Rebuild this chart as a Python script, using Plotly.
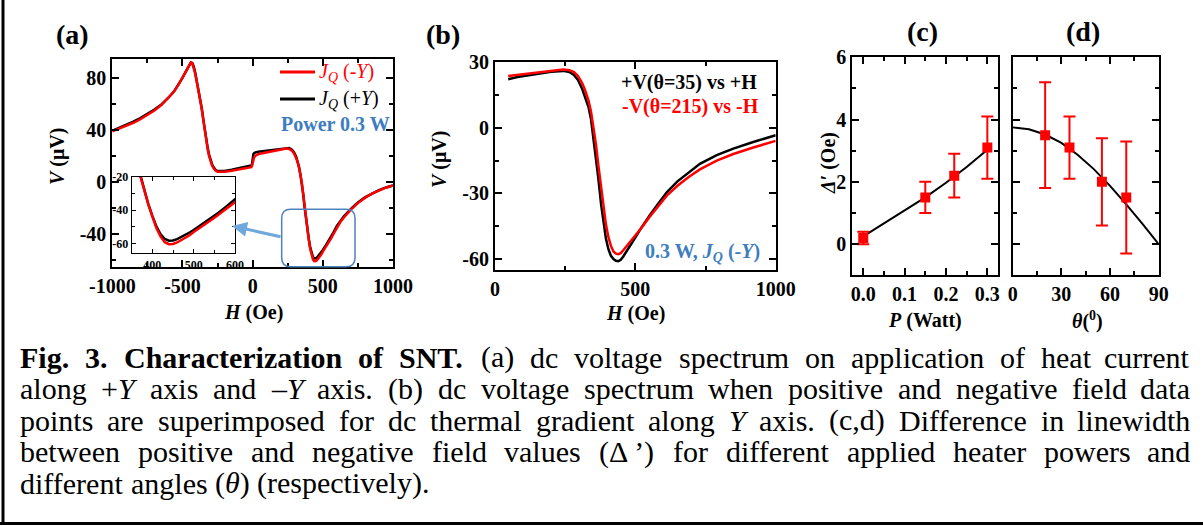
import re
import plotly.graph_objects as go

W, H = 1203, 526

# ---------------- data: panel (a) ----------------
H_a = [-1000, -950, -900, -850, -800, -750, -700, -650, -600, -560, -530, -500, -480, -460, -450, -440,
       -430, -420, -410, -400, -390, -380, -370, -360, -350, -340, -330, -320, -310, -300, -290, -280,
       -265, -250, -225, -200, -150, -100, -50, -20, -10, -5, 0, 5, 10, 20, 40, 70, 100, 150, 200, 240,
       260, 280, 295, 310, 320, 330, 340, 350, 360, 370, 380, 390, 400, 410, 420, 430, 440, 450, 460,
       470, 480, 490, 500, 515, 530, 545, 560, 580, 600, 625, 650, 700, 750, 800, 850, 900, 950, 1000]
V_a_minusY = [39.0, 41.0, 43.2, 45.6, 48.3, 51.5, 55.0, 59.2, 64.5, 69.5, 74.5, 80.0, 84.0, 88.0, 90.2, 91.8,
              91.2, 88.0, 83.5, 78.0, 73.0, 67.5, 61.0, 54.0, 46.0, 38.0, 31.0, 25.0, 20.0, 16.0, 13.0, 11.0,
              9.0, 8.0, 7.8, 8.0, 8.8, 9.6, 10.4, 11.0, 11.5, 12.5, 15.0, 17.5, 19.0, 20.3, 21.5, 22.3, 23.0,
              24.0, 25.0, 25.8, 25.6, 24.2, 22.0, 19.0, 16.0, 11.5, 6.0, 0.0, -9.0, -19.0, -28.0, -36.5, -44.0,
              -51.0, -56.0, -59.3, -60.5, -60.4, -59.5, -58.2, -56.8, -55.2, -53.2, -50.8, -48.2, -45.6, -42.8,
              -38.8, -34.6, -30.5, -27.0, -21.0, -16.0, -12.0, -8.8, -6.2, -4.2, -2.5]
V_a_plusY = [39.5, 41.7, 44.0, 46.5, 49.2, 52.3, 55.7, 59.7, 64.8, 69.7, 74.6, 80.0, 84.0, 88.0, 90.2, 91.8,
             91.4, 88.8, 84.5, 79.0, 74.0, 68.5, 62.0, 55.0, 47.0, 39.0, 32.0, 26.0, 21.0, 17.0, 14.0, 11.8,
             9.6, 8.6, 8.4, 8.7, 9.6, 10.6, 11.6, 12.3, 12.8, 13.5, 19.5, 21.5, 22.3, 22.9, 23.4, 23.8, 24.2,
             25.0, 25.8, 26.5, 26.3, 25.0, 22.8, 19.5, 16.3, 11.8, 6.2, 0.0, -9.0, -19.0, -28.0, -36.3, -43.5,
             -50.0, -54.6, -57.4, -58.4, -58.3, -57.5, -56.3, -55.0, -53.5, -52.0, -49.5, -47.0, -44.3, -41.6,
             -37.7, -33.5, -29.6, -26.2, -20.4, -15.6, -11.6, -8.5, -6.0, -4.0, -2.4]

# ---------------- data: panel (b) ----------------
H_b = [47, 80, 120, 160, 200, 243, 265, 280, 295, 310, 320, 333, 342, 350, 360, 368, 378, 386, 395, 404,
       413, 422, 431, 439, 448, 457, 470, 493, 520, 552, 580, 612, 650, 690, 730, 790, 849, 920, 1000]
V_b_theta35 = [22.2, 23.2, 24.0, 24.8, 25.6, 26.0, 25.5, 24.3, 22.0, 18.0, 14.5, 9.5, 4.0, -4.0, -14.0, -23.0,
               -35.0, -43.0, -50.5, -55.5, -58.5, -60.0, -60.8, -61.0, -60.3, -58.8, -56.0, -51.5, -46.0,
               -39.8, -35.0, -29.5, -24.5, -20.3, -16.5, -12.5, -9.5, -6.5, -3.4]
V_b_theta215 = [23.7, 24.2, 24.8, 25.4, 26.0, 26.6, 26.3, 25.6, 23.8, 20.5, 17.5, 12.5, 7.5, 1.0, -8.0, -17.0,
                -28.0, -36.0, -44.0, -50.0, -54.0, -56.5, -57.5, -57.8, -57.3, -56.0, -54.0, -50.5, -46.0,
                -40.5, -36.0, -31.0, -26.5, -22.5, -19.0, -15.0, -12.0, -9.0, -6.0]

# ---------------- data: panel (c) ----------------
P_watt = [0.0, 0.15, 0.22, 0.30]
D_P = [0.2, 1.5, 2.2, 3.1]
D_P_err = [0.2, 0.5, 0.7, 1.0]
P_fit = [0.0, 0.05, 0.10, 0.15, 0.20, 0.25, 0.30]
D_P_fit = [0.25, 0.66, 1.07, 1.50, 1.97, 2.48, 3.03]

# ---------------- data: panel (d) ----------------
theta_deg = [20, 35, 55, 70]
D_theta = [3.5, 3.1, 2.0, 1.5]
D_theta_err = [1.7, 1.0, 1.4, 1.8]
theta_fit = [0, 10, 20, 30, 40, 50, 60, 70, 80, 90]
D_theta_fit = [3.75, 3.69, 3.52, 3.25, 2.87, 2.41, 1.87, 1.28, 0.65, 0.0]

# ---------------- tick labels ----------------
a_xticks = [-1000, -500, 0, 500, 1000]
a_xtext = ["-1000", "-500", "0", "500", "1000"]
a_yticks = [-40, 0, 40, 80]
a_ytext = ["-40", "0", "40", "80"]
b_xticks = [0, 500, 1000]
b_xtext = ["0", "500", "1000"]
b_yticks = [-60, -30, 0, 30]
b_ytext = ["-60", "-30", "0", "30"]
c_xticks = [0.0, 0.1, 0.2, 0.3]
c_xtext = ["0.0", "0.1", "0.2", "0.3"]
c_yticks = [0, 2, 4, 6]
c_ytext = ["0", "2", "4", "6"]
d_xticks = [0, 30, 60, 90]
d_xtext = ["0", "30", "60", "90"]
in_xticks = [400, 500, 600]
in_xtext = ["400", "500", "600"]
in_yticks = [-60, -40, -20]
in_ytext = ["-60", "-40", "-20"]

# ---------------- caption ----------------
caption_lines = [
    ["**Fig.**", "**3.**", "**Characterization**", "**of**", "**SNT.**", "(a)", "dc", "voltage", "spectrum",
     "on", "application", "of", "heat", "current"],
    ["along", "+*Y*", "axis", "and", "–*Y*", "axis.", "(b)", "dc", "voltage", "spectrum", "when", "positive",
     "and", "negative", "field", "data"],
    ["points", "are", "superimposed", "for", "dc", "thermal", "gradient", "along", "*Y*", "axis.", "(c,d)",
     "Difference", "in", "linewidth"],
    ["between", "positive", "and", "negative", "field", "values", "(Δ ’)", "for", "different", "applied",
     "heater", "powers", "and"],
    ["different", "angles", "(*θ*)", "(respectively)."],
]
caption_justify = [True, True, True, True, False]

# ---------------- helpers ----------------
def fx(p):
    return p / W


def fy(p):
    return 1 - p / H


SERIF = "Liberation Serif"
RED = "#ff0000"
BLUE = "#3d7dc0"

REG = dict(zip("abcdefghijklmnopqrstuvwxyz",
               [444, 500, 444, 500, 444, 333, 500, 500, 278, 278, 500, 278, 778, 500, 500, 500, 500, 333, 389,
                278, 500, 500, 722, 500, 500, 444]))
REG.update(dict(zip("ABCDEFGHIJKLMNOPQRSTUVWXYZ",
                    [722, 667, 667, 722, 611, 556, 722, 722, 333, 389, 722, 611, 889, 722, 722, 556, 722, 667,
                     556, 611, 722, 722, 944, 722, 722, 611])))
REG.update({" ": 250, "(": 333, ")": 333, "+": 564, ",": 250, "-": 333, ".": 250, "–": 500, "’": 333,
            "Δ": 612, "θ": 500})
for d in "0123456789":
    REG[d] = 500
BOLD = dict(zip("abcdefghijklmnopqrstuvwxyz",
                [500, 556, 444, 556, 444, 333, 500, 556, 278, 333, 556, 278, 833, 556, 500, 556, 556, 444, 389,
                 333, 556, 500, 722, 500, 500, 444]))
BOLD.update(dict(zip("ABCDEFGHIJKLMNOPQRSTUVWXYZ",
                     [722, 667, 722, 722, 667, 611, 778, 778, 389, 500, 778, 667, 944, 722, 778, 611, 778, 722,
                      556, 667, 722, 722, 1000, 722, 722, 667])))
BOLD.update({" ": 250, "(": 333, ")": 333, ".": 250})
for d in "0123456789":
    BOLD[d] = 500
ITAL = dict(REG)
ITAL.update({"Y": 556, "θ": 500})


def word_html_width(word, fs):
    html, w = "", 0.0
    for tok in re.split(r"(\*\*[^*]+\*\*|\*[^*]+\*)", word):
        if not tok:
            continue
        if tok.startswith("**"):
            t = tok[2:-2]
            html += "<b>" + t + "</b>"
            w += sum(BOLD.get(c, 500) for c in t)
        elif tok.startswith("*"):
            t = tok[1:-1]
            html += "<i>" + t + "</i>"
            w += sum(ITAL.get(c, 500) for c in t)
        else:
            html += tok
            w += sum(REG.get(c, 500) for c in tok)
    return html, w * fs / 1000.0


annotations = []
CAP_FS = 30
CAP_X0, CAP_X1 = 19, 1191
CAP_BASE0, CAP_STEP = 367, 31.5
for i, (words, just) in enumerate(zip(caption_lines, caption_justify)):
    yc = CAP_BASE0 + i * CAP_STEP - 0.32 * CAP_FS
    items = [word_html_width(wd, CAP_FS) for wd in words]
    total = sum(w for _, w in items)
    n = len(items)
    gap = (CAP_X1 - CAP_X0 - total) / (n - 1) if just else 0.25 * CAP_FS
    x = CAP_X0
    for k, (html, w) in enumerate(items):
        last = just and k == n - 1
        annotations.append(dict(x=fx(CAP_X1 if last else x), y=fy(yc), xref="paper", yref="paper", text=html,
                                showarrow=False, xanchor="right" if last else "left", yanchor="middle",
                                borderpad=0, font=dict(family=SERIF, size=CAP_FS, color="black")))
        x += w + gap


def text_ann(txt, xp, yp, size=20, color="black", xanchor="center", angle=0):
    annotations.append(dict(x=fx(xp), y=fy(yp), xref="paper", yref="paper", text=txt, showarrow=False,
                            xanchor=xanchor, yanchor="middle", textangle=angle, borderpad=0,
                            font=dict(family=SERIF, size=size, color=color)))


# panel letters
text_ann("<b>(a)</b>", 72, 34, size=28)
text_ann("<b>(b)</b>", 443, 34, size=28)
text_ann("<b>(c)</b>", 922, 32, size=28)
text_ann("<b>(d)</b>", 1083, 32, size=28)
# axis titles
text_ann("<b><i>H</i> (Oe)</b>", 253, 312)
text_ann("<b><i>V</i> (μV)</b>", 58, 157, angle=-90)
text_ann("<b><i>H</i> (Oe)</b>", 635, 313)
text_ann("<b><i>V</i> (μV)</b>", 440, 160, angle=-90)
text_ann("<b><i>Δ′</i> (Oe)</b>", 829, 163, angle=-90)
text_ann("<b><i>P</i> (Watt)</b>", 925, 320)
text_ann("<b><i>θ</i>(<sup>0</sup>)</b>", 1087, 320)
# legend of (a), drawn by hand
legend_items = [("<i>J</i><sub><i>Q</i></sub> (-<i>Y</i>)", RED, 72),
                ("<i>J</i><sub><i>Q</i></sub> (+<i>Y</i>)", "black", 99)]
for txt, col, yy in legend_items:
    text_ann(txt, 318, yy, color=col, xanchor="left")
# in-plot texts
text_ann("<b>Power 0.3 W</b>", 280, 124, color=BLUE, xanchor="left")
text_ann("<b>+V(θ=35) vs +H</b>", 758, 83, xanchor="right")
text_ann("<b>-V(θ=215) vs -H</b>", 760, 106, color=RED, xanchor="right")
text_ann("<b>0.3 W, <i>J</i><sub><i>Q</i></sub> (-<i>Y</i>)</b>", 761, 252, color=BLUE, xanchor="right")
# arrow to inset
annotations.append(dict(x=fx(232), y=fy(226), xref="paper", yref="paper", text="", showarrow=True,
                        ax=50, ay=11, arrowcolor="#6fa8dc", arrowwidth=3, arrowhead=2, arrowsize=1))

# ---------------- figure ----------------
fig = go.Figure()

fig.add_trace(go.Scatter(x=H_a, y=V_a_plusY, mode="lines", line=dict(color="black", width=2.5),
                         name="J_Q (+Y)", showlegend=False, xaxis="x", yaxis="y"))
fig.add_trace(go.Scatter(x=H_a, y=V_a_minusY, mode="lines", line=dict(color=RED, width=2.5),
                         name="J_Q (-Y)", showlegend=False, xaxis="x", yaxis="y"))
fig.add_trace(go.Scatter(x=H_b, y=V_b_theta35, mode="lines", line=dict(color="black", width=2.5),
                         name="+V(θ=35) vs +H", showlegend=False, xaxis="x2", yaxis="y2"))
fig.add_trace(go.Scatter(x=H_b, y=V_b_theta215, mode="lines", line=dict(color=RED, width=2.5),
                         name="-V(θ=215) vs -H", showlegend=False, xaxis="x2", yaxis="y2"))
fig.add_trace(go.Scatter(x=P_fit, y=D_P_fit, mode="lines", line=dict(color="black", width=2),
                         showlegend=False, xaxis="x3", yaxis="y3"))
fig.add_trace(go.Scatter(x=P_watt, y=D_P, mode="markers",
                         marker=dict(symbol="square", size=10, color=RED),
                         error_y=dict(type="data", array=D_P_err, color=RED, thickness=2, width=6),
                         showlegend=False, xaxis="x3", yaxis="y3"))
fig.add_trace(go.Scatter(x=theta_fit, y=D_theta_fit, mode="lines", line=dict(color="black", width=2),
                         showlegend=False, xaxis="x4", yaxis="y4"))
fig.add_trace(go.Scatter(x=theta_deg, y=D_theta, mode="markers",
                         marker=dict(symbol="square", size=10, color=RED),
                         error_y=dict(type="data", array=D_theta_err, color=RED, thickness=2, width=6),
                         showlegend=False, xaxis="x4", yaxis="y4"))
# inset (same data, zoomed)
fig.add_trace(go.Scatter(x=H_a, y=V_a_plusY, mode="lines", line=dict(color="black", width=2.5),
                         showlegend=False, xaxis="x5", yaxis="y5"))
fig.add_trace(go.Scatter(x=H_a, y=V_a_minusY, mode="lines", line=dict(color=RED, width=2.5),
                         showlegend=False, xaxis="x5", yaxis="y5"))

tickfont = dict(family=SERIF, size=20, color="black", weight="bold")


def ax(domain, rng, tickvals, ticktext, minor_dtick, anchor, labels=True, lw=2, tl=7, font=tickfont):
    return dict(domain=domain, range=rng, anchor=anchor, showline=True, linewidth=lw, linecolor="black",
                mirror="ticks", ticks="inside", ticklen=tl, tickwidth=lw, tickcolor="black",
                tickvals=tickvals, ticktext=ticktext, showticklabels=labels, tickfont=font,
                showgrid=False, zeroline=False, automargin=False,
                minor=dict(ticks="inside", ticklen=max(3, tl - 3), tickwidth=max(1, lw - 0.5),
                           tickcolor="black", dtick=minor_dtick, showgrid=False))


inset_font = dict(family=SERIF, size=12, color="black", weight="bold")

fig.update_layout(
    template="none",
    width=W, height=H, margin=dict(l=0, r=0, t=0, b=0, pad=0, autoexpand=False), autosize=False,
    font=dict(family=SERIF, color="black"),
    paper_bgcolor="white", plot_bgcolor="white", showlegend=False,
    xaxis=ax([fx(112.3), fx(393)], [-1000, 1000], a_xticks, a_xtext, 250, "y"),
    yaxis=ax([fy(267), fy(59)], [-65, 94.5], a_yticks, a_ytext, 20, "x"),
    xaxis2=ax([fx(495), fx(775.7)], [0, 1000], b_xticks, b_xtext, 250, "y2"),
    yaxis2=ax([fy(270), fy(61.7)], [-65, 30.2], b_yticks, b_ytext, 15, "x2"),
    xaxis3=ax([fx(852.3), fx(998.3)], [-0.0265, 0.3265], c_xticks, c_xtext, 0.05, "y3"),
    yaxis3=ax([fy(275.3), fy(57.3)], [-1, 6], c_yticks, c_ytext, 1, "x3"),
    xaxis4=ax([fx(1012.7), fx(1158.7)], [0, 90], d_xticks, d_xtext, 15, "y4"),
    yaxis4=ax([fy(275.3), fy(57.3)], [-1, 6], c_yticks, c_ytext, 1, "x4", labels=False),
    xaxis5=ax([fx(131.7), fx(235)], [350, 600], in_xticks, in_xtext, 50, "y5", lw=1, tl=4, font=inset_font),
    yaxis5=ax([fy(253.3), fy(176.7)], [-66, -20], in_yticks, in_ytext, 10, "x5", lw=1, tl=4, font=inset_font),
    annotations=annotations,
)

# legend sample lines for (a)
for txt, col, yy in legend_items:
    fig.add_shape(type="line", x0=fx(280), x1=fx(315), y0=fy(yy), y1=fy(yy), xref="paper", yref="paper",
                  line=dict(color=col, width=3))

# rounded box marking the zoomed region in (a)
bx0, bx1, by0, by1, r = 281.7, 355, 209.3, 266.7, 9


def P(xp, yp):
    return f"{fx(xp):.5f},{fy(yp):.5f}"


box_path = (f"M {P(bx0 + r, by0)} L {P(bx1 - r, by0)} Q {P(bx1, by0)} {P(bx1, by0 + r)} "
            f"L {P(bx1, by1 - r)} Q {P(bx1, by1)} {P(bx1 - r, by1)} L {P(bx0 + r, by1)} "
            f"Q {P(bx0, by1)} {P(bx0, by1 - r)} L {P(bx0, by0 + r)} Q {P(bx0, by0)} {P(bx0 + r, by0)} Z")
fig.add_shape(type="path", path=box_path, xref="paper", yref="paper", line=dict(color="#4f81bd", width=1.5))
# page frame lines (left and bottom)
fig.add_shape(type="line", x0=fx(3), x1=fx(3), y0=fy(0), y1=fy(524), xref="paper", yref="paper",
              line=dict(color="black", width=3))
fig.add_shape(type="line", x0=0, x1=1, y0=fy(523.5), y1=fy(523.5), xref="paper", yref="paper",
              line=dict(color="black", width=3))

fig.write_html("out.html", config={"responsive": False},
               post_script="document.body.style.margin='0px';document.body.style.padding='0px';")
